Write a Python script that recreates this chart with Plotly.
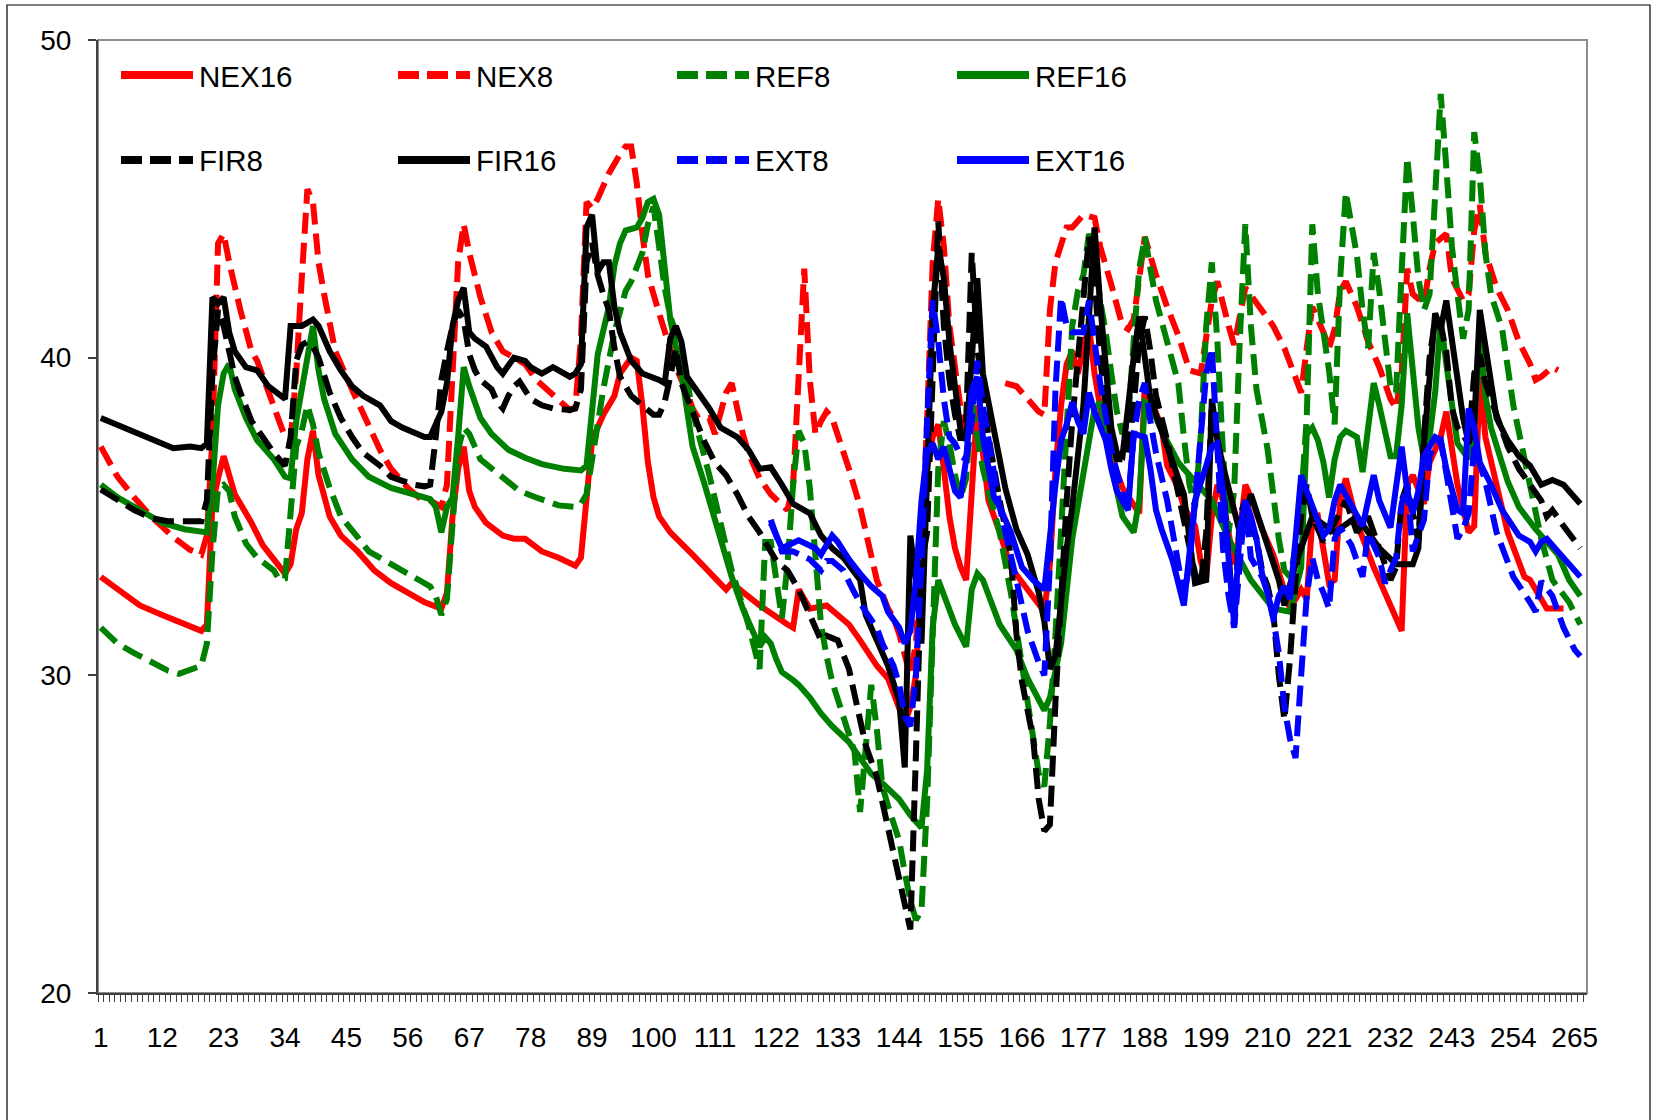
import plotly.graph_objects as go

# ---- series values (category index, value) ----
nex16_x = [1,4,8,12,16,19,20,21,22,23,25,28,30,34,35,36,37,38,39,40,42,44,47,50,53,56,59,62,63,64,65,66,67,68,70,73,75,77,80,83,86,87,88,89,91,93,94,96,97,98,99,100,101,103,107,111,113,114,119,124,125,126,128,131,135,137,140,142,143,145,146,147,148,149,150,151,152,153,154,155,156,157,158,159,160,162,164,167,170,171,172,173,174,175,176,177,178,179,181,184,187,188,189,191,192,194,195,197,198,199,200,201,202,203,204,205,206,207,209,211,213,214,215,216,217,218,219,221,222,223,224,226,229,232,234,235,236,238,239,241,242,244,246,247,248,249,251,253,256,257,260,263]
nex16_y = [33.1,32.7,32.2,31.9,31.6,31.4,31.6,35.4,36.2,36.9,35.7,34.8,34.1,33.2,33.5,34.6,35.1,36.8,37.7,36.3,35.0,34.4,33.9,33.3,32.9,32.6,32.3,32.1,32.6,35.0,36.5,37.2,35.8,35.3,34.8,34.4,34.3,34.3,33.9,33.7,33.45,33.7,35.7,37.4,38.2,38.8,39.5,40.0,39.9,38.5,36.7,35.6,35.0,34.5,33.8,33.1,32.7,32.9,32.2,31.6,31.5,32.7,32.1,32.2,31.6,31.1,30.3,29.9,29.4,28.5,29.0,30.0,33.5,36.5,37.5,37.9,36.5,35.0,34.0,33.4,33.0,36.0,38.5,37.0,35.5,34.5,33.4,32.7,32.0,33.5,36.5,38.5,39.8,40.2,39.5,40.3,41.0,39.5,37.4,35.9,35.1,39.2,38.7,37.8,36.6,35.9,35.3,34.7,33.6,33.1,35.0,36.0,35.5,34.5,33.5,34.5,36.0,35.6,34.6,33.8,32.6,32.1,32.4,32.7,32.4,34.9,35.0,32.9,33.0,35.5,36.2,34.8,33.4,32.2,31.4,36.0,36.3,35.4,36.7,37.5,38.3,36.0,34.5,34.7,39.4,37.5,36.0,34.5,33.1,33.0,32.1,32.1]

nex8_x = [1,4,7,10,14,17,19,20,21,22,23,24,26,27,28,29,31,33,34,35,36,37,38,39,40,41,43,46,49,51,53,56,58,60,62,63,64,65,66,67,69,70,71,73,75,77,79,82,85,86,87,88,89,90,92,94,95,96,97,98,99,101,102,103,104,106,107,108,110,111,113,114,115,116,117,119,121,124,125,126,127,128,129,130,131,132,133,135,137,138,140,142,143,144,145,146,147,148,149,150,151,152,153,154,155,156,160,163,165,167,169,170,171,172,174,175,177,179,180,182,184,185,186,188,190,192,194,196,198,200,201,203,204,206,208,211,213,215,216,217,218,220,221,222,223,224,226,228,230,232,233,234,235,236,238,239,240,242,243,245,246,247,248,249,251,253,255,257,258,259,261,262]
nex8_y = [37.2,36.25,35.6,35.0,34.35,33.95,33.8,34.4,37.5,43.6,43.9,43.0,41.5,40.9,40.2,39.9,38.9,37.9,37.5,37.4,39.5,42.5,45.3,44.9,43.0,42.0,40.2,39.0,37.8,37.1,36.5,35.9,35.6,35.5,35.3,36.0,39.5,43.0,44.2,43.3,41.9,41.3,40.8,40.2,40.0,39.8,39.3,38.8,38.35,38.45,40.6,44.9,44.7,45.0,45.8,46.4,46.65,46.65,45.5,43.9,42.6,41.4,40.8,40.35,39.7,38.9,38.4,38.1,38.1,37.6,38.9,39.2,38.3,37.6,37.0,36.2,35.7,35.2,36.0,39.0,42.8,39.3,37.6,38.0,38.3,38.1,37.6,36.5,35.3,34.5,33.0,32.1,31.8,31.3,30.6,30.0,31.0,34.0,38.0,43.0,45.0,43.5,41.0,39.5,38.4,37.5,None,39.2,39.1,38.7,38.3,38.2,41.5,43.0,44.1,44.1,44.5,44.4,43.5,42.3,41.0,40.9,41.2,43.8,42.6,41.6,40.7,39.6,39.5,41.8,42.4,41.0,40.4,42.2,41.7,41.0,40.3,39.3,38.9,40.3,41.6,40.8,40.3,40.9,42.1,42.4,41.6,40.5,39.7,38.7,38.4,39.5,42.8,42.0,41.7,42.8,43.6,43.9,42.5,41.8,42.0,44.0,44.8,43.3,42.2,41.5,40.5,39.8,39.3,39.4,39.7,39.6]

ref8_x = [1,4,7,10,13,15,17,19,20,21,22,23,24,25,27,29,32,33,34,35,36,37,38,39,40,42,44,47,49,52,55,57,60,61,62,63,64,65,66,67,69,71,74,76,79,83,86,87,88,89,90,91,93,95,96,98,99,100,101,102,103,104,106,107,110,112,114,117,119,120,121,122,123,124,125,126,127,128,129,130,131,132,134,136,137,138,139,140,141,142,143,144,145,146,147,148,149,150,151,152,153,154,155,156,157,158,159,160,162,164,166,168,169,170,171,172,173,174,175,176,177,178,179,180,181,182,183,184,185,186,187,188,189,190,192,194,195,196,197,198,199,200,201,202,203,204,205,206,207,208,210,212,213,214,215,216,217,218,219,221,222,223,224,226,227,228,229,230,232,233,234,235,236,237,238,239,240,241,242,243,244,245,246,247,248,249,250,252,254,257,259,261,264,266]
ref8_y = [31.5,31.0,30.7,30.4,30.15,30.05,30.2,30.3,31.0,33.9,35.9,36.0,35.8,35.0,34.15,33.7,33.3,33.0,33.05,35.0,37.2,37.7,38.5,37.9,37.0,35.9,35.0,34.35,33.9,33.6,33.3,33.1,32.8,32.5,31.9,32.4,35.0,37.1,37.8,37.6,36.8,36.5,36.1,35.8,35.6,35.35,35.3,35.4,35.7,36.8,37.8,39.0,40.8,42.1,42.4,43.3,44.2,44.75,43.5,42.2,41.3,40.8,39.3,38.3,36.3,34.7,33.3,31.6,30.2,34.2,34.2,33.0,31.8,33.5,36.0,37.7,37.3,35.9,33.6,31.6,30.6,29.8,28.7,27.6,25.7,27.5,29.7,28.3,26.5,25.9,25.3,24.8,23.8,22.9,22.3,22.6,26.0,31.5,36.5,38.0,37.3,36.3,35.6,36.2,38.6,37.5,36.5,35.8,34.5,32.6,30.3,28.3,26.9,26.5,28.5,31.3,34.5,38.0,41.0,42.1,42.6,43.9,43.3,41.8,40.8,39.5,38.3,37.6,38.0,40.5,42.8,43.8,42.8,41.8,40.5,39.2,37.5,36.0,35.3,37.5,41.0,43.0,40.5,37.0,34.5,35.8,40.5,44.2,41.0,39.0,37.1,34.3,33.3,33.1,34.0,35.5,38.1,44.2,42.0,39.6,37.9,42.5,45.2,43.2,41.5,40.3,43.3,42.1,39.1,38.9,42.7,46.3,44.5,42.5,41.5,42.0,45.1,48.3,46.0,43.5,42.0,40.6,41.5,47.1,45.7,43.3,42.0,40.9,38.5,36.1,34.3,33.0,32.3,31.6]

ref16_x = [1,4,8,12,16,19,20,21,22,23,24,25,27,29,32,34,35,36,37,38,39,40,41,43,46,49,53,57,60,61,62,63,64,65,66,67,69,71,74,77,80,84,87,88,89,90,92,93,94,95,97,98,99,100,101,102,103,105,106,107,109,111,113,114,116,118,119,120,121,122,123,125,126,128,130,132,134,135,137,139,141,143,144,146,148,149,150,151,152,154,156,157,158,159,162,165,167,169,170,171,172,173,175,177,178,179,180,182,184,186,187,188,189,191,194,196,200,203,207,211,214,216,217,218,219,220,221,222,223,224,226,227,229,230,232,233,234,235,236,237,238,239,240,241,242,243,244,246,247,248,249,250,251,253,255,257,258,260,262,264,266]
ref16_y = [36.0,35.6,35.2,34.8,34.6,34.55,34.5,36.0,38.5,39.5,39.8,39.0,38.1,37.4,36.8,36.25,36.2,38.0,39.0,40.0,41.0,39.6,38.7,37.6,36.8,36.25,35.9,35.7,35.55,35.3,34.5,35.3,35.6,37.5,39.7,39.1,38.1,37.6,37.1,36.85,36.65,36.5,36.45,36.6,38.6,40.1,41.6,42.9,43.6,44.0,44.1,44.4,44.9,45.0,44.5,42.9,41.2,39.5,38.2,37.2,36.1,34.9,33.8,33.1,32.1,31.25,30.9,31.2,31.0,30.5,30.1,29.85,29.7,29.3,28.8,28.4,28.1,27.9,27.4,26.9,26.6,26.3,26.1,25.6,25.2,27.0,31.5,33.0,32.5,31.6,30.9,32.7,33.2,33.0,31.6,30.8,29.9,29.2,28.9,29.3,30.2,31.0,34.3,36.3,37.4,38.4,38.6,36.6,35.0,34.5,35.5,38.6,38.5,37.7,36.7,36.3,35.5,34.3,33.0,32.1,32.0,33.4,37.6,37.8,37.4,36.7,35.6,36.8,37.5,37.7,37.5,36.4,39.2,38.5,36.9,36.9,38.5,41.4,39.6,37.8,36.8,37.5,38.9,41.2,39.8,38.4,37.3,36.8,37.8,40.7,38.8,37.8,37.2,36.1,35.3,34.8,34.6,34.2,33.8,33.0,32.5]

fir8_x = [1,4,7,10,13,19,20,21,22,23,24,25,26,27,28,30,32,34,35,36,37,38,39,40,42,44,46,48,51,53,57,59,60,61,62,63,64,65,66,67,68,69,71,72,73,74,75,76,78,80,82,85,86,87,88,89,90,91,92,93,94,96,98,100,101,102,103,104,105,107,109,111,113,115,117,119,121,122,124,126,128,130,131,133,135,136,137,138,140,142,144,145,146,147,148,149,150,151,152,153,154,155,156,157,158,159,160,162,164,165,166,168,169,170,171,172,173,174,175,176,177,178,179,180,181,182,183,184,185,186,187,188,189,190,192,194,196,197,198,199,200,201,202,203,204,205,206,207,208,209,210,211,212,213,214,215,216,217,218,220,222,224,226,228,230,232,233,234,235,236,237,238,239,240,241,242,243,244,246,247,248,249,251,253,255,257,259,260,261,263,265,266]
fir8_y = [35.85,35.5,35.2,34.95,34.85,34.85,35.5,39.5,41.5,41.0,40.2,39.4,38.9,38.4,38.0,37.5,37.0,36.6,37.5,39.9,40.4,40.5,40.35,40.0,38.9,38.1,37.5,37.0,36.6,36.25,36.0,35.95,36.0,37.5,39.3,40.2,41.0,41.5,41.2,40.1,39.6,39.3,39.0,38.6,38.4,38.8,39.1,39.25,38.7,38.5,38.4,38.35,38.4,39.0,43.0,43.6,42.6,42.0,41.5,40.3,39.4,38.8,38.5,38.2,38.2,38.6,39.4,40.3,39.2,38.35,37.4,36.7,36.3,35.7,35.0,34.5,33.9,33.6,33.3,32.7,31.9,31.1,31.25,31.1,30.2,29.4,28.5,27.8,26.8,25.2,23.8,22.8,22.0,27.5,33.5,34.5,39.0,44.3,41.0,39.3,38.2,37.4,38.0,43.3,40.3,38.8,37.5,35.5,33.8,31.3,29.8,28.0,26.1,25.1,25.3,29.2,32.5,35.5,38.0,40.0,42.0,43.8,42.5,40.0,38.5,37.5,36.8,36.8,37.0,38.5,40.5,41.3,40.2,38.8,37.4,35.8,34.2,33.2,32.8,34.5,38.5,37.5,36.0,34.0,31.6,35.0,35.5,34.7,34.3,33.3,32.8,32.0,30.0,28.6,30.5,33.0,35.0,36.0,35.0,34.2,34.8,35.5,34.5,35.0,34.0,33.0,33.4,35.5,36.0,35.0,34.2,37.5,40.0,41.2,41.0,40.2,38.4,37.8,37.3,39.5,40.1,39.2,38.2,37.2,36.5,36.0,35.5,35.0,35.2,34.7,34.2,34.0]

fir16_x = [1,5,10,14,17,19,20,21,22,23,24,25,27,29,31,33,34,35,37,39,40,42,44,46,48,51,53,55,59,60,62,63,64,65,66,67,68,70,72,73,75,77,78,80,82,85,86,87,88,89,90,91,92,93,94,96,98,101,102,103,104,105,106,110,112,115,117,119,121,123,125,128,130,132,134,137,138,140,142,144,145,146,147,148,149,150,151,152,153,154,155,156,157,158,159,160,162,163,165,167,169,170,171,172,174,175,177,178,179,180,181,182,183,184,186,187,188,189,192,195,197,199,200,201,202,204,205,207,210,212,213,215,218,222,226,230,233,236,237,238,240,241,242,243,244,245,246,247,248,249,250,251,253,255,257,259,261,263,265,266]
fir16_y = [38.1,37.8,37.4,37.15,37.2,37.15,37.3,41.9,41.7,41.9,40.8,40.2,39.7,39.6,39.1,38.8,38.7,41.0,41.0,41.2,41.0,40.2,39.6,39.1,38.8,38.5,38.0,37.8,37.5,37.5,38.3,39.2,41.0,41.8,42.2,40.8,40.6,40.35,39.7,39.5,40.0,39.9,39.7,39.5,39.7,39.4,39.5,39.8,44.1,44.5,42.7,43.0,43.0,41.6,40.8,39.9,39.5,39.3,39.2,40.6,41.0,40.5,39.4,38.4,37.8,37.5,37.1,36.5,36.55,36.0,35.4,35.1,34.4,34.0,33.7,33.0,31.9,31.1,30.3,29.2,27.1,34.4,33.0,31.0,36.0,41.5,43.5,42.5,40.5,39.2,37.7,37.4,40.3,42.5,39.5,38.6,36.8,35.9,34.6,33.8,32.6,31.7,30.2,30.6,34.0,35.3,38.5,41.5,44.1,41.7,39.5,37.8,37.0,36.9,40.0,41.3,40.0,38.7,37.2,35.7,32.9,33.0,38.7,37.4,36.6,35.3,34.5,35.7,34.1,33.0,32.2,33.5,35.0,34.5,35.0,34.0,33.5,33.5,34.0,37.3,41.4,40.9,41.8,40.5,39.1,38.1,37.3,37.9,41.5,40.3,39.1,38.1,37.4,36.9,36.6,36.0,36.15,36.0,35.6,35.4]

ext8_x = [121,123,125,128,130,131,132,134,136,138,140,141,143,144,145,146,147,148,149,150,151,152,153,154,155,156,157,158,159,160,162,165,167,169,170,171,172,173,174,175,177,178,179,180,182,184,185,186,187,188,189,190,192,194,195,196,197,198,199,200,201,202,203,204,205,206,207,209,210,211,212,213,214,215,216,217,218,219,220,221,222,223,225,227,228,230,231,233,234,235,236,238,239,240,241,243,244,245,246,247,248,249,251,252,254,257,258,259,261,263,265,266]
ext8_y = [34.9,33.9,33.9,33.65,33.3,33.6,33.6,33.3,32.6,32.0,31.5,31.0,30.3,29.7,28.7,28.4,30.0,33.5,38.0,41.8,40.5,38.7,37.5,37.3,36.9,36.8,38.0,39.9,38.5,37.5,35.3,33.0,31.4,30.4,30.0,33.5,39.0,41.9,41.0,40.8,40.8,41.8,40.5,39.2,37.1,35.7,35.5,37.5,38.7,39.2,38.0,37.0,35.5,33.5,32.5,33.5,35.5,37.5,39.5,40.3,37.0,34.0,32.5,31.5,33.5,35.5,33.7,33.1,32.6,31.8,30.7,29.0,28.0,27.4,30.0,32.5,33.7,33.0,32.6,32.1,34.3,34.65,34.1,33.1,34.5,33.7,32.9,33.7,35.4,36.0,33.9,34.9,36.9,37.3,37.4,35.3,34.3,34.6,35.1,37.2,36.6,36.1,34.5,34.0,33.1,32.3,32.0,32.96,32.5,31.5,30.8,30.6]

ext16_x = [121,123,126,129,130,132,133,135,137,139,141,142,144,145,146,147,148,149,150,151,152,153,154,155,156,157,158,159,160,161,162,164,166,168,170,171,172,173,174,175,176,177,178,179,180,181,182,183,184,185,186,188,189,190,191,193,195,196,197,199,200,201,202,203,204,205,206,207,208,209,210,211,212,213,214,215,216,217,219,220,221,222,223,225,227,229,230,232,233,234,235,236,237,238,240,241,242,244,245,246,247,248,250,252,255,257,258,259,260,263,266]
ext16_y = [34.8,34.0,34.25,34.0,33.8,34.4,34.2,33.65,33.2,32.8,32.5,32.0,31.5,31.0,31.4,33.0,35.5,37.0,37.3,36.8,37.2,36.5,35.8,35.6,36.8,39.0,39.4,37.5,36.5,35.6,35.3,34.5,33.4,33.0,32.7,34.5,36.0,37.4,37.9,38.6,38.0,37.6,38.9,38.3,37.8,37.4,36.5,35.8,35.5,35.2,37.6,37.5,36.5,35.2,34.6,33.6,32.2,33.8,35.5,36.6,37.2,37.3,35.8,33.7,31.6,34.6,35.5,35.0,34.3,33.2,32.6,31.8,32.5,32.8,32.4,34.3,36.3,35.8,34.9,34.4,34.6,35.5,36.0,35.3,34.7,36.3,35.5,34.65,35.8,37.2,35.8,35.1,35.8,36.9,37.5,37.4,36.5,35.2,35.1,38.4,37.8,36.7,36.0,35.2,34.4,34.2,33.9,34.2,34.3,33.7,33.1]

x_labels = list(range(1, 266, 11))

# name, x, y, colour, dashed
series = [
    ("NEX16", nex16_x, nex16_y, "#FF0000", False),
    ("NEX8", nex8_x, nex8_y, "#FF0000", True),
    ("REF8", ref8_x, ref8_y, "#008000", True),
    ("REF16", ref16_x, ref16_y, "#008000", False),
    ("FIR8", fir8_x, fir8_y, "#000000", True),
    ("FIR16", fir16_x, fir16_y, "#000000", False),
    ("EXT8", ext8_x, ext8_y, "#0000FF", True),
    ("EXT16", ext16_x, ext16_y, "#0000FF", False),
]

W, H = 1653, 1120
L, R, T, B = 98, 1587, 40, 993          # plot area in pixels
PW, PH = R - L, B - T
FONT = "Arial, Liberation Sans, sans-serif"
DASH = "21px,9px"

def px(x):
    return (x - L) / PW

def py(y):
    return (B - y) / PH

fig = go.Figure()
for name, xs, ys, col, dashed in series:
    fig.add_trace(go.Scatter(
        x=xs, y=ys, mode="lines", name=name, showlegend=False,
        line=dict(color=col, width=6, dash=DASH if dashed else "solid"),
        connectgaps=False, hoverinfo="skip",
    ))

shapes = [
    # outer frame of the chart area
    dict(type="rect", xref="paper", yref="paper", x0=px(7), x1=px(1650), y0=py(1130), y1=py(5),
         line=dict(color="#000000", width=1.2), layer="below"),
    # plot area border
    dict(type="rect", xref="paper", yref="paper", x0=0, x1=1, y0=0, y1=1,
         line=dict(color="#8C8C8C", width=2), layer="below"),
]
annotations = []

# legend: two rows of four entries
col_x = [121, 398, 677, 957]
row_y = [75, 160]
for i, (name, xs, ys, col, dashed) in enumerate(series):
    r, c = divmod(i, 4)
    x0 = col_x[c]
    y0 = row_y[r]
    shapes.append(dict(type="line", xref="paper", yref="paper",
                       x0=px(x0), x1=px(x0 + 72), y0=py(y0), y1=py(y0),
                       line=dict(color=col, width=8, dash="21px,8px" if dashed else "solid")))
    annotations.append(dict(xref="paper", yref="paper", x=px(x0 + 76), y=py(y0 + 1),
                            text=name, showarrow=False, xanchor="left", yanchor="middle",
                            font=dict(family=FONT, size=29.5, color="#000000")))

fig.update_layout(
    width=W, height=H,
    margin=dict(l=L, r=W - R, t=T, b=H - B, pad=0),
    paper_bgcolor="white", plot_bgcolor="white",
    shapes=shapes, annotations=annotations,
    showlegend=False,
    font=dict(family=FONT, size=28, color="#000000"),
    xaxis=dict(range=[0.5, 267.2], tickvals=x_labels, ticktext=[str(v) for v in x_labels],
               ticks="", showgrid=False, zeroline=False, showline=True,
               linecolor="#404040", linewidth=2, ticklabelstandoff=18,
               tickfont=dict(family=FONT, size=28, color="#000000"),
               minor=dict(ticks="outside", tick0=0.5, dtick=1, ticklen=7,
                          tickcolor="#404040", tickwidth=1, showgrid=False)),
    yaxis=dict(range=[20, 50], tickvals=[20, 30, 40, 50], ticks="outside", ticklen=8,
               tickcolor="#404040", tickwidth=1.5, showgrid=False, zeroline=False,
               showline=True, linecolor="#404040", linewidth=2, ticklabelstandoff=11,
               tickfont=dict(family=FONT, size=28, color="#000000")),
)

fig.write_html("out.html", include_plotlyjs=True, full_html=True,
               config={"displayModeBar": False})
